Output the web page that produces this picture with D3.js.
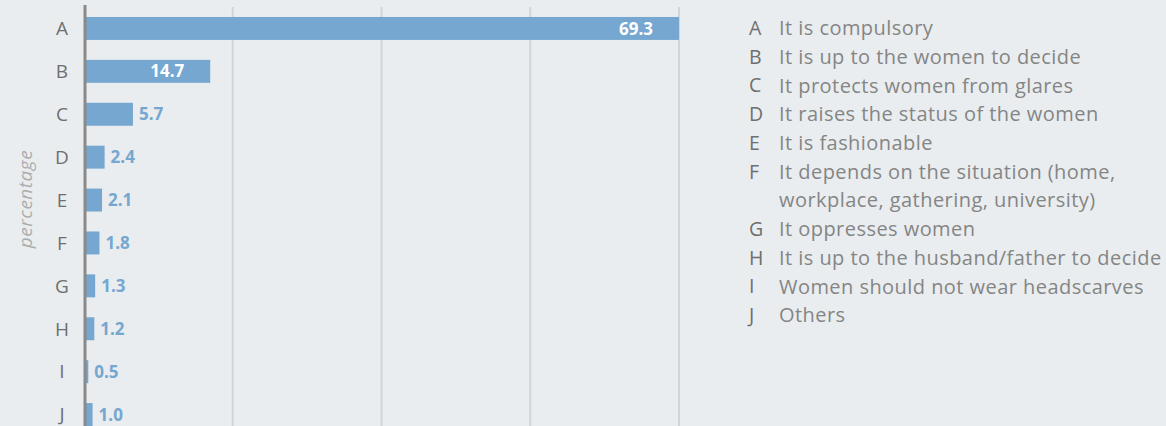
<!DOCTYPE html>
<html>
<head>
<meta charset="utf-8">
<script src="https://cdn.jsdelivr.net/npm/d3@7"></script>
<style>
  body { margin: 0; background: #e9edef; }
  svg { display: block; }
  text { font-family: 'Open Sans', 'Noto Sans', sans-serif; }
</style>
</head>
<body>
<div id="chart"></div>
<script>
var categories = ['A', 'B', 'C', 'D', 'E', 'F', 'G', 'H', 'I', 'J']
var values = [69.3, 14.7, 5.7, 2.4, 2.1, 1.8, 1.3, 1.2, 0.5, 1.0]
var legendLabels = [
  ['It is compulsory'],
  ['It is up to the women to decide'],
  ['It protects women from glares'],
  ['It raises the status of the women'],
  ['It is fashionable'],
  ['It depends on the situation (home,', 'workplace, gathering, university)'],
  ['It oppresses women'],
  ['It is up to the husband/father to decide'],
  ['Women should not wear headscarves'],
  ['Others']
]
var gridValues = [0.25, 0.5, 0.75, 1].map(f => f * d3.max(values))

var width = 1166
var height = 426

var svg = d3
  .select('#chart')
  .append('svg')
  .attr('width', width)
  .attr('height', height)

svg.append('rect')
  .attr('width', width)
  .attr('height', height)
  .attr('fill', '#e9edef')

var xScale = d3.scaleLinear().domain([0, d3.max(values)]).range([84, 679])

var yScale = d3
  .scaleBand()
  .domain(categories)
  .range([7, 436])
  .paddingInner(0.465)
  .paddingOuter(0.2325)

// grid lines
svg
  .selectAll('.grid')
  .data(gridValues)
  .enter()
  .append('line')
  .attr('class', 'grid')
  .attr('x1', d => xScale(d))
  .attr('x2', d => xScale(d))
  .attr('y1', 7)
  .attr('y2', height)
  .attr('stroke', '#d2d5d7')
  .attr('stroke-width', 2)

// bars
svg
  .selectAll('.bar')
  .data(values)
  .enter()
  .append('rect')
  .attr('class', 'bar')
  .attr('x', xScale(0))
  .attr('y', (d, i) => yScale(categories[i]))
  .attr('width', d => xScale(d) - xScale(0))
  .attr('height', yScale.bandwidth())
  .attr('fill', '#75a7d0')

// axis line
svg
  .append('line')
  .attr('x1', 85)
  .attr('x2', 85)
  .attr('y1', 5)
  .attr('y2', height)
  .attr('stroke', '#8a8a8a')
  .attr('stroke-width', 3)

// value labels
svg
  .selectAll('.value')
  .data(values)
  .enter()
  .append('text')
  .attr('class', 'value')
  .text(d => d.toFixed(1))
  .attr('x', d => (d > 10 ? xScale(d) - 26 : xScale(d) + 6))
  .attr('y', (d, i) => yScale(categories[i]) + yScale.bandwidth() / 2)
  .attr('dy', '0.36em')
  .attr('text-anchor', d => (d > 10 ? 'end' : 'start'))
  .attr('font-size', 17)
  .attr('font-weight', 700)
  .attr('fill', d => (d > 10 ? 'white' : '#75a7d0'))

// category letters
svg
  .selectAll('.cat')
  .data(categories)
  .enter()
  .append('text')
  .attr('class', 'cat')
  .text(d => d)
  .attr('x', 62)
  .attr('y', d => yScale(d) + yScale.bandwidth() / 2)
  .attr('dy', '0.36em')
  .attr('text-anchor', 'middle')
  .attr('font-size', 19)
  .attr('fill', '#6f6f6f')

// axis title
svg
  .append('text')
  .text('percentage')
  .attr('transform', 'translate(32,199) rotate(-90)')
  .attr('text-anchor', 'middle')
  .attr('font-size', 19)
  .attr('font-style', 'italic')
  .attr('letter-spacing', 0.5)
  .attr('fill', '#adadad')

// legend
var lineHeight = 28.7
var legendRows = []
legendLabels.forEach((lines, i) => {
  lines.forEach((t, j) => {
    legendRows.push({ letter: j === 0 ? categories[i] : '', text: t })
  })
})

var legend = svg.append('g').attr('transform', 'translate(749,28)')

legend
  .selectAll('.leg-letter')
  .data(legendRows)
  .enter()
  .append('text')
  .attr('class', 'leg-letter')
  .text(d => d.letter)
  .attr('x', 0)
  .attr('y', (d, i) => i * lineHeight)
  .attr('dy', '0.36em')
  .attr('font-size', 19.5)
  .attr('fill', '#6f6f6f')

legend
  .selectAll('.leg-text')
  .data(legendRows)
  .enter()
  .append('text')
  .attr('class', 'leg-text')
  .text(d => d.text)
  .attr('x', 30)
  .attr('y', (d, i) => i * lineHeight)
  .attr('dy', '0.36em')
  .attr('font-size', 20)
  .attr('letter-spacing', 0.45)
  .attr('fill', '#858585')
</script>
</body>
</html>
